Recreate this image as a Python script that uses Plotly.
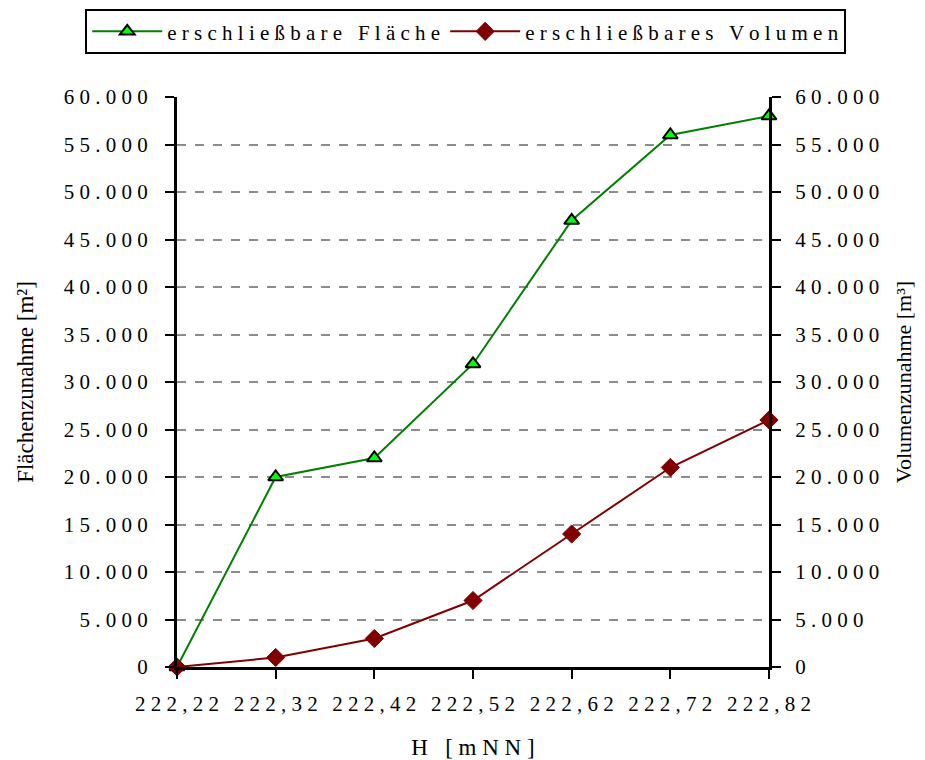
import plotly.graph_objects as go

# H [mNN]
hoehen = ["222,22", "222,32", "222,42", "222,52", "222,62", "222,72", "222,82"]
flaeche = [0, 20000, 22000, 31900, 47000, 56000, 58000]
volumen = [0, 1000, 3000, 7000, 14000, 21000, 26000]
y_ticks = list(range(0, 60001, 5000))

SP = " "  # imitates the wide letter spacing of the original


def _spaced(s: str) -> str:
    return SP.join(s)


def _de_thousands(v: int) -> str:
    return f"{v:,}".replace(",", ".")


x_text = [_spaced(h) for h in hoehen]
y_text = [_spaced(_de_thousands(v)) for v in y_ticks]

FONT = "Liberation Serif"


def _f(size):
    return dict(family=FONT, size=size, color="#000000")


fig = go.Figure()
fig.add_trace(
    go.Scatter(
        x=x_text,
        y=flaeche,
        name=_spaced("erschließbare") + "   " + _spaced("Fläche"),
        mode="lines+markers",
        line=dict(color="#008000", width=2),
        marker=dict(symbol="triangle-up", size=13, color="#00ff00",
                    line=dict(color="#000000", width=2)),
        cliponaxis=False,
    )
)
fig.add_trace(
    go.Scatter(
        x=x_text,
        y=volumen,
        name=_spaced("erschließbares") + "   " + _spaced("Volumen"),
        mode="lines+markers",
        yaxis="y2",
        line=dict(color="#800000", width=2),
        marker=dict(symbol="diamond", size=14, color="#800000",
                    line=dict(color="#800000", width=1)),
        cliponaxis=False,
    )
)

yax_common = dict(
    range=[0, 60000],
    tickvals=y_ticks,
    ticktext=y_text,
    showline=True,
    linecolor="#000000",
    linewidth=3,
    ticks="outside",
    ticklen=9,
    tickwidth=2,
    tickcolor="#000000",
    tickfont=_f(21),
    zeroline=False,
    automargin=False,
)

# the page body has an 8px margin, so the figure is a bit smaller than the window
fig.update_layout(
    width=917,
    height=752,
    paper_bgcolor="white",
    plot_bgcolor="white",
    font=_f(16),
    margin=dict(l=169, r=156, t=89, b=93, autoexpand=False),
    showlegend=True,
    legend=dict(
        orientation="h",
        x=-0.155,
        xanchor="left",
        y=1.154,
        yanchor="top",
        bordercolor="#000000",
        borderwidth=2,
        font=_f(21),
        itemwidth=70,
    ),
    xaxis=dict(
        type="category",
        range=[0, 6],
        showline=True,
        linecolor="#000000",
        linewidth=3,
        ticks="outside",
        ticklen=9,
        tickwidth=2,
        tickcolor="#000000",
        tickfont=_f(21),
        ticklabelstandoff=7,
        showgrid=False,
        automargin=False,
        title=dict(text=_spaced("H") + "   " + _spaced("[mNN]"),
                   font=_f(23), standoff=26),
    ),
    yaxis=dict(
        **yax_common,
        ticklabelstandoff=13,
        title=dict(text="Flächenzunahme [m²]", font=_f(23), standoff=24),
        showgrid=True,
        gridcolor="#8c8c8c",
        griddash="dash",
        gridwidth=2,
    ),
    yaxis2=dict(
        **yax_common,
        ticklabelstandoff=10,
        title=dict(text="Volumenzunahme [m³]", font=_f(22), standoff=18),
        overlaying="y",
        side="right",
        anchor="x",
        showgrid=False,
    ),
    # inner halves of the crossing ticks
    yaxis3=dict(range=[0, 60000], tickvals=y_ticks, overlaying="y", side="left",
                anchor="x", ticks="inside", ticklen=9, tickwidth=2,
                tickcolor="#000000", showticklabels=False, showgrid=False,
                zeroline=False, showline=False),
    yaxis4=dict(range=[0, 60000], tickvals=y_ticks, overlaying="y", side="right",
                anchor="x", ticks="inside", ticklen=9, tickwidth=2,
                tickcolor="#000000", showticklabels=False, showgrid=False,
                zeroline=False, showline=False),
    xaxis2=dict(type="category", range=[0, 6], overlaying="x", anchor="y",
                side="bottom", ticks="inside", ticklen=5, tickwidth=2,
                tickcolor="#000000", showticklabels=False, showgrid=False,
                showline=False, tickvals=x_text),
)

fig.write_html("out.html")
